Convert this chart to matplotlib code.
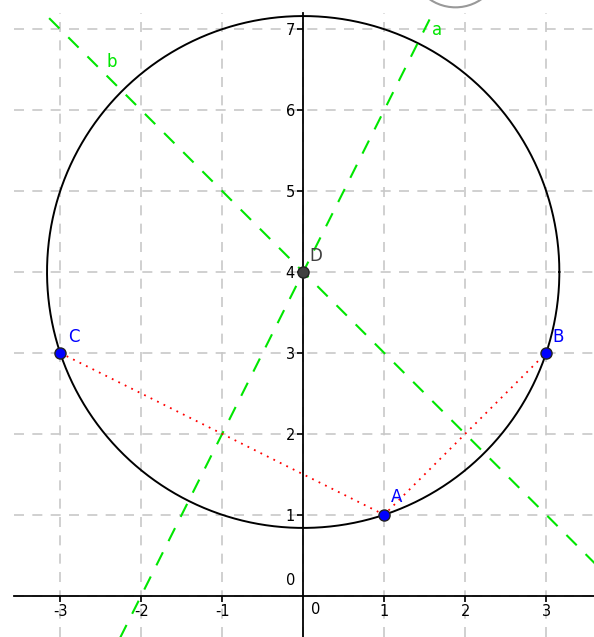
import matplotlib
matplotlib.use("Agg")
import matplotlib.pyplot as plt
import numpy as np
from matplotlib.patches import Circle

plt.rcParams["axes.unicode_minus"] = False

# points of the construction
pt_names = ["A", "B", "C", "D"]
pt_x = [1, 3, -3, 0]
pt_y = [1, 3, 3, 4]
pt_colors = ["#0000ff", "#0000ff", "#0000ff", "#404040"]
lbl_dx = [0.15, 0.15, 0.17, 0.16]
lbl_dy = [0.22, 0.2, 0.2, 0.2]

# circle through A, B, C centred on D
circ_center = (0, 4)
circ_radius = np.sqrt(10)

# perpendicular bisectors: y = m*x + c
line_names = ["a", "b"]
line_slope = [2, -1]
line_icpt = [4, 4]
line_lbl_x = [1.65, -2.36]
line_lbl_y = [6.99, 6.59]

xticks = [-3, -2, -1, 1, 2, 3]
yticks = [1, 2, 3, 4, 5, 6, 7]

fig = plt.figure(figsize=(5.94, 6.37), dpi=100)
ax = fig.add_axes([14 / 594, 0, 1 - 14 / 594, 1 - 13 / 637])
ax.set_xlim(-3.57, 3.59)
ax.set_ylim(-0.51, 7.2)

# grid
for gx in range(-3, 4):
    ax.axvline(gx, color="#c8c8c8", lw=1.2, ls=(0, (6, 5)), zorder=0)
for gy in range(0, 8):
    ax.axhline(gy, color="#c8c8c8", lw=1.2, ls=(0, (6, 5)), zorder=0)

# axes through origin
for s in ["top", "right"]:
    ax.spines[s].set_visible(False)
ax.spines["left"].set_position(("data", 0))
ax.spines["bottom"].set_position(("data", 0))
ax.spines["left"].set_linewidth(1.3)
ax.spines["bottom"].set_linewidth(1.3)
ax.spines["left"].set_zorder(1)
ax.spines["bottom"].set_zorder(1)
ax.set_xticks(xticks)
ax.set_yticks(yticks)
ax.tick_params(axis="both", direction="out", length=4, width=1.2, labelsize=10.5,
               colors="black", pad=2)
ax.text(-0.1, 0.1, "0", fontsize=10.5, ha="right", va="bottom")
ax.text(0.1, -0.08, "0", fontsize=10.5, ha="left", va="top")

# circle
t = np.linspace(0, 2 * np.pi, 400)
ax.plot(circ_center[0] + circ_radius * np.cos(t),
        circ_center[1] + circ_radius * np.sin(t), color="black", lw=1.4, zorder=2)

# bisectors
xs = np.array([-5, 5])
for name, m, c, lx, ly in zip(line_names, line_slope, line_icpt, line_lbl_x, line_lbl_y):
    ax.plot(xs, m * xs + c, color="#00e600", lw=1.5, ls=(0, (7, 6)), zorder=3)
    ax.text(lx, ly, name, color="#00e600", fontsize=12, ha="center", va="center")

# dotted chords C-A and A-B
ax.plot([pt_x[2], pt_x[0], pt_x[1]], [pt_y[2], pt_y[0], pt_y[1]],
        color="#ff0000", lw=1.3, ls=(0, (1, 3)), zorder=3)

# points
for n, x, y, c, dx, dy in zip(pt_names, pt_x, pt_y, pt_colors, lbl_dx, lbl_dy):
    ax.plot(x, y, "o", ms=8, mfc=c, mec="#222222", mew=1, zorder=5)
    ax.text(x + dx, y + dy, n, color=c, fontsize=12, ha="center", va="center", zorder=6)

# bit of a UI button at the top edge
ax.add_patch(Circle((1.88, 7.83), 0.56, fill=False, ec="#999999", lw=1.5,
                    clip_on=False, zorder=1))

fig.savefig("out.png", dpi=100)
